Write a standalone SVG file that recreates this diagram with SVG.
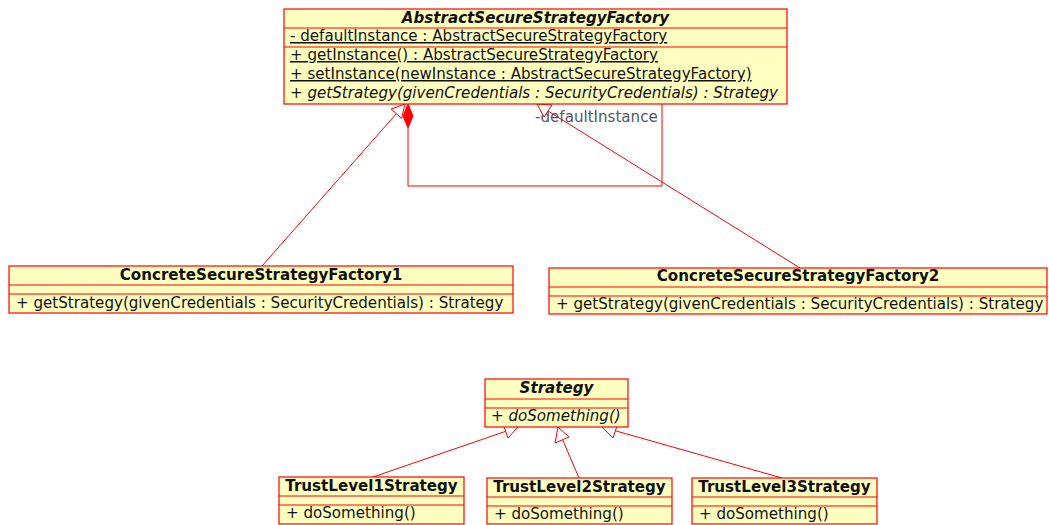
<svg xmlns="http://www.w3.org/2000/svg" width="1049" height="525" viewBox="0 0 1049 525">
<style>
.box{fill:#ffffc0;stroke:#ff0000;stroke-width:1.2}
.sep{stroke:#ff0000;stroke-width:1.2}
text{font-family:"DejaVu Sans",Verdana,sans-serif;font-size:15.1px;fill:#111}
.t{font-weight:bold;text-anchor:middle}
.ab{font-style:italic}
.u{text-decoration:underline}
.con{fill:none;stroke:#ff0000;stroke-width:1}
.tri{fill:#ffffff;stroke:#ff0000;stroke-width:1}
.lbl{fill:#505868}
</style>
<rect width="1049" height="525" fill="#ffffff"/>
<g id="connectors">
  <!-- composition -->
  <polyline class="con" points="408,128 408,186 662,186 662,104"/>
  <polygon points="408,104 413,116 408,128 403,116" fill="#ff0000" stroke="#ff0000"/>
  <text class="lbl" x="535" y="122">-defaultInstance</text>
  <!-- CSSF1 generalization -->
  <line class="con" x1="262" y1="266" x2="396.4" y2="113.7"/>
  <polygon class="tri" points="405,104 401.6,118.3 391.1,109.1"/>
  <!-- CSSF2 generalization -->
  <line class="con" x1="800" y1="268" x2="548" y2="111"/>
  <polygon class="tri" points="537,104 552,105 544,117"/>
  <!-- TL1 -->
  <line class="con" x1="373" y1="477" x2="505.7" y2="431.3"/>
  <polygon class="tri" points="518,427 508,438 503,424"/>
  <!-- TL2 -->
  <line class="con" x1="579" y1="478" x2="562.5" y2="439.5"/>
  <polygon class="tri" points="558,427 569,437 555,443"/>
  <!-- TL3 -->
  <line class="con" x1="782" y1="478" x2="614.5" y2="430.5"/>
  <polygon class="tri" points="602,427 618,423 613,438"/>
</g>
<g id="AbstractSecureStrategyFactory">
  <rect class="box" x="284" y="9" width="503" height="95"/>
  <line class="sep" x1="284" y1="28" x2="787" y2="28"/>
  <line class="sep" x1="284" y1="47" x2="787" y2="47"/>
  <text class="t ab" x="535.5" y="23">AbstractSecureStrategyFactory</text>
  <text class="u" x="290" y="41">- defaultInstance : AbstractSecureStrategyFactory</text>
  <text class="u" x="290" y="60">+ getInstance() : AbstractSecureStrategyFactory</text>
  <text class="u" x="290" y="79">+ setInstance(newInstance : AbstractSecureStrategyFactory)</text>
  <text class="ab" x="290" y="98">+ getStrategy(givenCredentials : SecurityCredentials) : Strategy</text>
</g>
<g id="ConcreteSecureStrategyFactory1">
  <rect class="box" x="9" y="266" width="504" height="47"/>
  <line class="sep" x1="9" y1="285" x2="513" y2="285"/>
  <line class="sep" x1="9" y1="294" x2="513" y2="294"/>
  <text class="t" x="261" y="280">ConcreteSecureStrategyFactory1</text>
  <text x="16" y="308">+ getStrategy(givenCredentials : SecurityCredentials) : Strategy</text>
</g>
<g id="ConcreteSecureStrategyFactory2">
  <rect class="box" x="549" y="268" width="498" height="46"/>
  <line class="sep" x1="549" y1="287" x2="1047" y2="287"/>
  <line class="sep" x1="549" y1="296" x2="1047" y2="296"/>
  <text class="t" x="798" y="281">ConcreteSecureStrategyFactory2</text>
  <text x="556" y="309">+ getStrategy(givenCredentials : SecurityCredentials) : Strategy</text>
</g>
<g id="Strategy">
  <rect class="box" x="485" y="379" width="143" height="48"/>
  <line class="sep" x1="485" y1="399" x2="628" y2="399"/>
  <line class="sep" x1="485" y1="408" x2="628" y2="408"/>
  <text class="t ab" x="556.5" y="393">Strategy</text>
  <text class="ab" x="491" y="421">+ doSomething()</text>
</g>
<g id="TrustLevel1Strategy">
  <rect class="box" x="279" y="477" width="185" height="47"/>
  <line class="sep" x1="279" y1="496" x2="464" y2="496"/>
  <line class="sep" x1="279" y1="505" x2="464" y2="505"/>
  <text class="t" x="371.5" y="491">TrustLevel1Strategy</text>
  <text x="286" y="518">+ doSomething()</text>
</g>
<g id="TrustLevel2Strategy">
  <rect class="box" x="487" y="478" width="185" height="46"/>
  <line class="sep" x1="487" y1="497" x2="672" y2="497"/>
  <line class="sep" x1="487" y1="506" x2="672" y2="506"/>
  <text class="t" x="579.5" y="492">TrustLevel2Strategy</text>
  <text x="494" y="519">+ doSomething()</text>
</g>
<g id="TrustLevel3Strategy">
  <rect class="box" x="692" y="478" width="185" height="46"/>
  <line class="sep" x1="692" y1="497" x2="877" y2="497"/>
  <line class="sep" x1="692" y1="506" x2="877" y2="506"/>
  <text class="t" x="784.5" y="492">TrustLevel3Strategy</text>
  <text x="699" y="519">+ doSomething()</text>
</g>
</svg>
